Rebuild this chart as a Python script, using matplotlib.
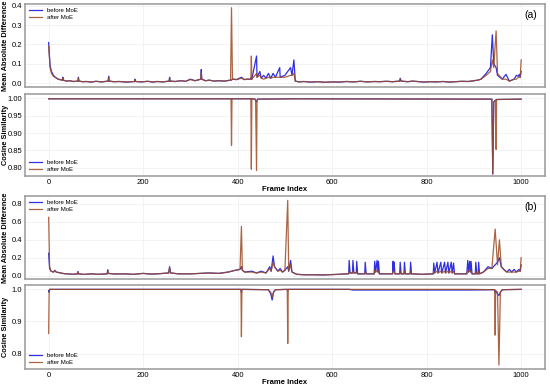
import numpy as np
import matplotlib.pyplot as plt

plt.rcParams['font.family'] = ['Liberation Sans', 'DejaVu Sans']

# rows: (frame, before MoE, after MoE)
mad_a = [
    (0, 0.21, 0.19), (3, 0.09, 0.08), (6, 0.06, 0.05), (10, 0.04, 0.035), (14, 0.03, 0.03),
    (20, 0.02, 0.02), (29, 0.015, 0.015), (30, 0.03, 0.025), (31, 0.015, 0.015), (38, 0.01, 0.01),
    (45, 0.012, 0.012), (52, 0.008, 0.008), (62, 0.01, 0.01), (63, 0.03, 0.025), (64, 0.01, 0.01),
    (72, 0.007, 0.007), (80, 0.008, 0.008), (90, 0.005, 0.005), (100, 0.009, 0.009), (112, 0.006, 0.006),
    (126, 0.01, 0.01), (127, 0.035, 0.03), (128, 0.01, 0.01), (138, 0.007, 0.007), (150, 0.008, 0.008),
    (165, 0.005, 0.005), (182, 0.008, 0.008), (183, 0.02, 0.018), (184, 0.008, 0.008), (196, 0.006, 0.006),
    (210, 0.009, 0.009), (220, 0.005, 0.005), (230, 0.008, 0.008), (242, 0.006, 0.006), (255, 0.01, 0.01),
    (256, 0.03, 0.028), (257, 0.01, 0.01), (268, 0.008, 0.008), (280, 0.012, 0.012), (290, 0.009, 0.009),
    (300, 0.02, 0.018), (310, 0.012, 0.012), (322, 0.02, 0.02), (323, 0.07, 0.05), (324, 0.02, 0.02),
    (332, 0.012, 0.012), (340, 0.015, 0.015), (350, 0.01, 0.01), (360, 0.012, 0.012), (372, 0.01, 0.01),
    (385, 0.015, 0.015), (387, 0.015, 0.39), (389, 0.02, 0.02), (398, 0.018, 0.018), (408, 0.03, 0.025),
    (414, 0.018, 0.018), (420, 0.02, 0.02), (428, 0.02, 0.02), (429, 0.03, 0.14), (430, 0.02, 0.02),
    (440, 0.14, 0.05), (441, 0.03, 0.03), (447, 0.06, 0.04), (450, 0.025, 0.025), (455, 0.04, 0.02),
    (460, 0.025, 0.025), (465, 0.05, 0.03), (470, 0.025, 0.025), (475, 0.05, 0.03), (480, 0.03, 0.03),
    (489, 0.08, 0.03), (490, 0.03, 0.03), (500, 0.04, 0.03), (512, 0.08, 0.04), (515, 0.04, 0.04),
    (519, 0.12, 0.05), (522, 0.01, 0.01), (530, 0.006, 0.006), (540, 0.008, 0.008), (555, 0.005, 0.005),
    (570, 0.007, 0.007), (585, 0.004, 0.004), (600, 0.006, 0.006), (615, 0.005, 0.005), (630, 0.008, 0.008),
    (645, 0.006, 0.006), (660, 0.009, 0.009), (675, 0.006, 0.006), (690, 0.008, 0.008), (700, 0.007, 0.007),
    (715, 0.009, 0.009), (728, 0.007, 0.007), (743, 0.01, 0.01), (744, 0.025, 0.02), (746, 0.01, 0.01),
    (760, 0.007, 0.007), (770, 0.01, 0.01), (780, 0.008, 0.008), (795, 0.005, 0.005), (808, 0.007, 0.007),
    (820, 0.006, 0.006), (835, 0.008, 0.008), (848, 0.005, 0.005), (860, 0.007, 0.007), (875, 0.009, 0.009),
    (888, 0.008, 0.008), (900, 0.012, 0.012), (908, 0.015, 0.015), (915, 0.02, 0.02), (926, 0.05, 0.04),
    (935, 0.08, 0.06), (939, 0.25, 0.12), (942, 0.1, 0.08), (947, 0.08, 0.27), (950, 0.04, 0.05),
    (960, 0.02, 0.02), (968, 0.045, 0.02), (975, 0.01, 0.01), (985, 0.02, 0.02), (990, 0.04, 0.02),
    (994, 0.035, 0.03), (996, 0.045, 0.03), (998, 0.03, 0.03), (1000, 0.06, 0.12),
]

cos_a = [
    (0, 0.999, 0.999), (200, 0.999, 0.999), (386, 0.999, 0.999), (387, 0.998, 0.865), (388, 0.999, 0.999),
    (428, 0.999, 0.999), (429, 0.997, 0.796), (430, 0.999, 0.999), (437, 0.998, 0.998), (438, 0.994, 0.994),
    (440, 0.99, 0.792), (441, 0.994, 0.994), (442, 0.998, 0.998), (520, 0.999, 0.999), (938, 0.998, 0.998),
    (940, 0.782, 0.782), (942, 0.99, 0.99), (946, 0.995, 0.995), (947, 0.995, 0.853), (948, 0.997, 0.997),
    (1000, 0.998, 0.998),
]

mad_b = [
    (0, 0.25, 0.65), (2, 0.08, 0.1), (5, 0.05, 0.05), (10, 0.04, 0.04), (13, 0.06, 0.055),
    (16, 0.04, 0.04), (25, 0.03, 0.03), (33, 0.022, 0.022), (40, 0.02, 0.02), (50, 0.015, 0.015),
    (61, 0.02, 0.02), (62, 0.045, 0.04), (63, 0.02, 0.02), (75, 0.014, 0.014), (90, 0.02, 0.02),
    (105, 0.015, 0.015), (124, 0.02, 0.02), (125, 0.065, 0.055), (126, 0.025, 0.025), (140, 0.018, 0.018),
    (160, 0.02, 0.02), (180, 0.015, 0.015), (200, 0.025, 0.025), (215, 0.018, 0.018), (230, 0.02, 0.02),
    (254, 0.03, 0.03), (256, 0.1, 0.09), (258, 0.03, 0.03), (275, 0.02, 0.02), (300, 0.02, 0.02),
    (320, 0.025, 0.025), (340, 0.03, 0.03), (360, 0.025, 0.025), (380, 0.04, 0.04), (395, 0.06, 0.06),
    (405, 0.07, 0.07), (408, 0.1, 0.55), (410, 0.06, 0.06), (415, 0.04, 0.04), (430, 0.05, 0.04),
    (440, 0.03, 0.03), (450, 0.05, 0.04), (460, 0.03, 0.03), (468, 0.1, 0.08), (471, 0.05, 0.05),
    (475, 0.22, 0.15), (478, 0.1, 0.1), (485, 0.05, 0.05), (490, 0.08, 0.06), (495, 0.04, 0.04),
    (500, 0.06, 0.06), (506, 0.1, 0.84), (508, 0.05, 0.05), (512, 0.17, 0.12), (515, 0.04, 0.04),
    (525, 0.015, 0.015), (540, 0.01, 0.01), (560, 0.01, 0.01), (580, 0.008, 0.008), (600, 0.012, 0.012),
    (615, 0.015, 0.015), (630, 0.02, 0.02),
    (635, 0.02, 0.02), (636, 0.17, 0.05), (638, 0.03, 0.03), (643, 0.03, 0.03), (644, 0.17, 0.05),
    (646, 0.03, 0.03), (651, 0.03, 0.03), (652, 0.16, 0.05), (654, 0.02, 0.02), (669, 0.02, 0.02),
    (670, 0.15, 0.05), (672, 0.02, 0.02), (689, 0.02, 0.02), (690, 0.16, 0.06), (692, 0.04, 0.04),
    (695, 0.17, 0.06), (697, 0.04, 0.04), (698, 0.16, 0.05), (700, 0.02, 0.02), (728, 0.02, 0.02),
    (729, 0.16, 0.05), (730, 0.05, 0.05), (731, 0.15, 0.05), (733, 0.02, 0.02), (743, 0.02, 0.02),
    (744, 0.15, 0.05), (746, 0.02, 0.02), (752, 0.02, 0.02), (753, 0.15, 0.05), (755, 0.02, 0.02),
    (765, 0.02, 0.02), (766, 0.15, 0.05), (768, 0.02, 0.02), (790, 0.015, 0.015), (814, 0.02, 0.02),
    (815, 0.14, 0.05), (817, 0.03, 0.03), (822, 0.15, 0.05), (824, 0.03, 0.03), (830, 0.15, 0.05),
    (832, 0.03, 0.03), (838, 0.15, 0.05), (840, 0.03, 0.03), (845, 0.15, 0.05), (847, 0.03, 0.03),
    (852, 0.15, 0.05), (854, 0.03, 0.03), (857, 0.14, 0.05), (859, 0.02, 0.02), (885, 0.02, 0.02),
    (887, 0.17, 0.06), (889, 0.04, 0.04), (891, 0.16, 0.06), (893, 0.04, 0.04), (894, 0.16, 0.05),
    (896, 0.02, 0.02), (903, 0.02, 0.02), (904, 0.15, 0.05), (906, 0.02, 0.02), (909, 0.02, 0.02),
    (910, 0.15, 0.05), (912, 0.02, 0.02), (920, 0.04, 0.04), (930, 0.1, 0.08), (938, 0.08, 0.08),
    (945, 0.12, 0.52), (950, 0.15, 0.12), (954, 0.2, 0.4), (958, 0.1, 0.1), (965, 0.06, 0.06),
    (970, 0.04, 0.04), (975, 0.07, 0.04), (980, 0.04, 0.04), (985, 0.07, 0.04), (990, 0.04, 0.04),
    (995, 0.07, 0.05), (998, 0.05, 0.05), (1000, 0.12, 0.2),
]

cos_b = [
    (0, 0.995, 0.862), (1, 0.99, 0.99), (2, 0.999, 0.999), (407, 0.999, 0.999), (408, 0.99, 0.852),
    (409, 0.999, 0.999), (465, 0.998, 0.998), (470, 0.985, 0.99), (473, 0.966, 0.975), (476, 0.99, 0.992),
    (480, 0.998, 0.998), (505, 0.999, 0.999), (506, 0.995, 0.831), (507, 0.999, 0.999), (636, 0.999, 0.999),
    (644, 0.997, 0.999), (652, 0.997, 0.999), (695, 0.997, 0.999), (731, 0.997, 0.999), (830, 0.997, 0.999),
    (891, 0.997, 0.999), (944, 0.998, 0.998), (945, 0.99, 0.857), (946, 0.995, 0.995), (950, 0.985, 0.99),
    (953, 0.98, 0.764), (956, 0.99, 0.99), (960, 0.998, 0.998), (1000, 0.999, 0.999),
]

panels = [
    (mad_a, 'Mean Absolute Difference', (-0.02, 0.41), [0.0, 0.1, 0.2, 0.3, 0.4], '%.1f', 'upper left', '(a)'),
    (cos_a, 'Cosine Similarity', (0.776, 1.012), [0.80, 0.85, 0.90, 0.95, 1.00], '%.2f', 'lower left', None),
    (mad_b, 'Mean Absolute Difference', (-0.037, 0.889), [0.0, 0.2, 0.4, 0.6, 0.8], '%.1f', 'upper left', '(b)'),
    (cos_b, 'Cosine Similarity', (0.752, 1.012), [0.8, 0.9, 1.0], '%.1f', 'lower left', None),
]
positions = [
    [0.0455, 0.776, 0.945, 0.214],
    [0.0455, 0.546, 0.945, 0.211],
    [0.0455, 0.281, 0.945, 0.214],
    [0.0455, 0.049, 0.945, 0.216],
]

c_before = '#3030e0'
c_after = '#9c4a22'

fig = plt.figure(figsize=(5.5, 3.88), dpi=100)
for i, (rows, ylab, ylim, yticks, fmt, loc, tag) in enumerate(panels):
    ax = fig.add_axes(positions[i])
    arr = np.array(rows)
    ax.plot(arr[:, 0], arr[:, 1], color=c_before, lw=0.9, label='before MoE')
    ax.plot(arr[:, 0], arr[:, 2], color=c_after, lw=0.9, alpha=0.85, label='after MoE')
    ax.set_xlim(-50, 1050)
    ax.set_ylim(*ylim)
    ax.set_yticks(yticks)
    ax.set_yticklabels([fmt % v for v in yticks])
    ax.set_xticks([0, 200, 400, 600, 800, 1000])
    ax.grid(True, color='#eeeeee', lw=0.5)
    ax.set_axisbelow(True)
    ax.tick_params(labelsize=5.5, length=0, pad=2)
    for s in ax.spines.values():
        s.set_color('#999999')
        s.set_linewidth(1.1)
    ax.set_ylabel(ylab, fontsize=5.3, fontweight='bold')
    ax.yaxis.set_label_coords(-0.031, 0.5)
    ax.legend(loc=loc, fontsize=4.3, frameon=False, handlelength=2.2, borderaxespad=0.3, labelspacing=0.3)
    if tag:
        ax.text(0.985, 0.93, tag, transform=ax.transAxes, ha='right', va='top', fontsize=7.5)
    if i % 2 == 1:
        ax.set_xlabel('Frame Index', fontsize=5.5, fontweight='bold', labelpad=0)
    else:
        ax.tick_params(labelbottom=False)

fig.savefig('out.png', dpi=100)
